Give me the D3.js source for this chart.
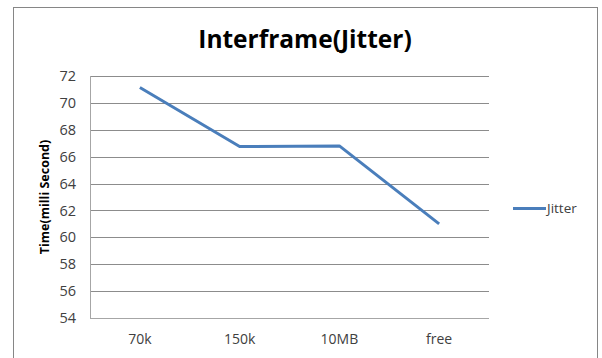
<!DOCTYPE html>
<html>
<head>
<meta charset="utf-8">
<script src="https://cdn.jsdelivr.net/npm/d3@7"></script>
<style>
  body { margin: 0; background: #fff; }
  svg { display: block; }
</style>
</head>
<body>
<svg id="chart" width="602" height="358"></svg>
<script>
// Interframe jitter per bandwidth setting
const categories = ["70k", "150k", "10MB", "free"];
const jitter = [71.15, 66.75, 66.8, 61.0];
const yTicks = [54, 56, 58, 60, 62, 64, 66, 68, 70, 72];
const seriesName = "Jitter";

const svg = d3.select("#chart");
const font = "'Open Sans', 'DejaVu Sans', sans-serif";

// outer frame
svg.append("rect")
  .attr("x", 13.5).attr("y", 7.5)
  .attr("width", 584).attr("height", 360)
  .attr("fill", "#fff").attr("stroke", "#868686").attr("stroke-width", 1);

const plot = { left: 90, right: 489, top: 76, bottom: 318 };

const x = d3.scaleBand().domain(categories).range([plot.left, plot.right]);
const y = d3.scaleLinear().domain([54, 72]).range([plot.bottom, plot.top]);

// horizontal gridlines
svg.append("g")
  .selectAll("line")
  .data(yTicks)
  .join("line")
  .attr("x1", plot.left).attr("x2", plot.right)
  .attr("y1", d => Math.round(y(d)) + 0.5).attr("y2", d => Math.round(y(d)) + 0.5)
  .attr("stroke", d => d === 54 ? "#a6a6a6" : "#8c8c8c")
  .attr("stroke-width", 1);

// vertical axis line
svg.append("line")
  .attr("x1", plot.left + 0.5).attr("x2", plot.left + 0.5)
  .attr("y1", plot.top).attr("y2", plot.bottom + 0.5)
  .attr("stroke", "#a6a6a6");

// y axis labels
const yAxis = d3.axisLeft(y).tickValues(yTicks).tickSize(0).tickPadding(14);
const gy = svg.append("g").attr("transform", `translate(${plot.left},0)`).call(yAxis);
gy.select(".domain").remove();
gy.selectAll("text")
  .attr("font-family", font).attr("font-size", 14.5).attr("fill", "#404040");

// x axis labels
const xAxis = d3.axisBottom(x).tickSize(0).tickPadding(16);
const gx = svg.append("g").attr("transform", `translate(0,${plot.bottom})`).call(xAxis);
gx.select(".domain").remove();
gx.selectAll("text")
  .attr("font-family", font).attr("font-size", 14).attr("fill", "#404040");

// series line
const line = d3.line()
  .x((d, i) => x(categories[i]) + x.bandwidth() / 2)
  .y(d => y(d));
svg.append("path")
  .datum(jitter)
  .attr("d", line)
  .attr("fill", "none")
  .attr("stroke", "#4a7ebb")
  .attr("stroke-width", 3)
  .attr("stroke-linejoin", "round");

// title
svg.append("text")
  .attr("x", 305).attr("y", 48)
  .attr("text-anchor", "middle")
  .attr("font-family", font).attr("font-weight", "bold").attr("font-size", 24.5)
  .attr("fill", "#000")
  .text("Interframe(Jitter)");

// y axis title
svg.append("text")
  .attr("transform", `translate(49,${(plot.top + plot.bottom) / 2}) rotate(-90)`)
  .attr("text-anchor", "middle")
  .attr("font-family", font).attr("font-weight", "bold").attr("font-size", 12.5)
  .attr("fill", "#000")
  .text("Time(milli Second)");

// legend
const lg = svg.append("g").attr("transform", "translate(513,208)");
lg.append("line")
  .attr("x1", 0).attr("x2", 33).attr("y1", 0.5).attr("y2", 0.5)
  .attr("stroke", "#4a7ebb").attr("stroke-width", 3);
lg.append("text")
  .attr("x", 34).attr("y", 5)
  .attr("font-family", font).attr("font-size", 13.5).attr("fill", "#404040")
  .text(seriesName);
</script>
</body>
</html>
